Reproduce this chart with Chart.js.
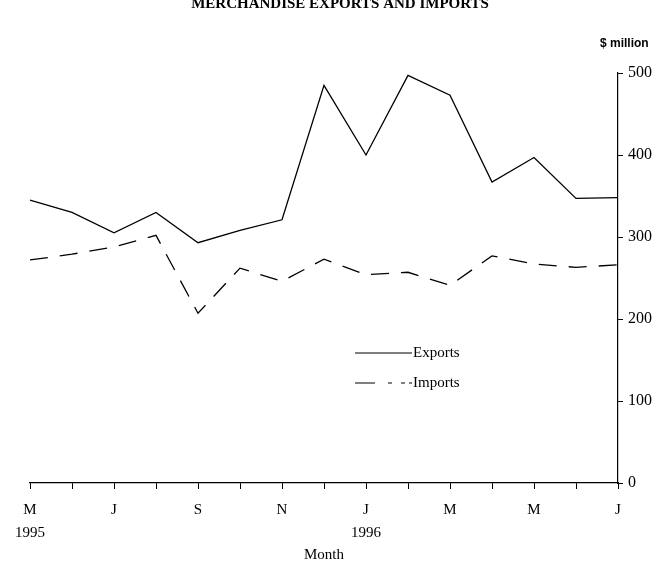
<!DOCTYPE html>
<html>
<head>
<meta charset="utf-8">
<script src="https://cdn.jsdelivr.net/npm/chart.js@4/dist/chart.umd.min.js"></script>
<style>
  html, body { margin: 0; padding: 0; background: #fff; }
  #wrap { width: 661px; height: 564px; position: relative; }
</style>
</head>
<body>
<div id="wrap"><canvas id="tradeChart"></canvas></div>
<script>
// May 1995 .. Jul 1996
const months = ['M', 'J', 'J', 'A', 'S', 'O', 'N', 'D', 'J', 'F', 'M', 'A', 'M', 'J', 'J'];
const years = ['1995', '', '', '', '', '', '', '', '1996', '', '', '', '', '', ''];
const exports = [345, 330, 305, 330, 293, 308, 321, 485, 400, 497, 473, 367, 397, 347, 348];
const imports = [272, 279, 288, 302, 207, 262, 246, 273, 254, 257, 241, 277, 267, 263, 266];
const yTicks = [0, 100, 200, 300, 400, 500];

const serif = '"Liberation Serif", "DejaVu Serif", serif';

const textPlugin = {
    id: 'texts',
    afterDraw(chart) {
        const c = chart.ctx;
        c.save();
        c.fillStyle = '#000';
        c.strokeStyle = '#000';
        // title (top cut off in the scan)
        c.font = 'bold 15px ' + serif;
        c.textAlign = 'center';
        c.textBaseline = 'middle';
        c.fillText('MERCHANDISE EXPORTS AND IMPORTS', 340, 4);
        // unit
        c.font = 'bold 12px "Liberation Sans", Arial, sans-serif';
        c.textAlign = 'left';
        c.fillText('$ million', 600, 44);
        // legend
        c.lineWidth = 1.2;
        c.beginPath();
        c.moveTo(355, 353);
        c.lineTo(412, 353);
        c.stroke();
        c.setLineDash([20, 13, 4, 9, 4, 4]);
        c.beginPath();
        c.moveTo(355, 383);
        c.lineTo(412, 383);
        c.stroke();
        c.setLineDash([]);
        c.font = '15px ' + serif;
        c.fillText('Exports', 413, 353);
        c.fillText('Imports', 413, 383);
        c.restore();
    }
};

new Chart(document.getElementById('tradeChart'), {
    type: 'line',
    data: {
        labels: months.map((m, i) => years[i] ? [m, years[i]] : m),
        datasets: [
            {
                label: 'Exports',
                data: exports,
                borderColor: '#000',
                borderWidth: 1.3,
                pointRadius: 0,
                tension: 0,
            },
            {
                label: 'Imports',
                data: imports,
                borderColor: '#000',
                borderWidth: 1.3,
                borderDash: [18, 12],
                pointRadius: 0,
                tension: 0,
            },
        ],
    },
    options: {
        responsive: true,
        maintainAspectRatio: false,
        animation: false,
        layout: { padding: { left: 30, top: 73, right: 0, bottom: 0 } },
        plugins: {
            legend: { display: false },
            title: { display: false },
            tooltip: { enabled: false },
        },
        scales: {
            x: {
                offset: false,
                afterFit: (s) => { s.height = 81; },
                border: { display: true, color: '#000', width: 1.2 },
                grid: { display: true, drawOnChartArea: false, tickLength: 6, color: '#000' },
                ticks: {
                    autoSkip: false,
                    maxRotation: 0,
                    padding: 10,
                    color: '#000',
                    font: { family: serif, size: 15, lineHeight: 1.5 },
                    callback: function (v, i) {
                        return i % 2 === 0 ? this.getLabelForValue(v) : '';
                    },
                },
                title: {
                    display: true,
                    text: 'Month',
                    color: '#000',
                    font: { family: serif, size: 15 },
                    padding: { top: 0, bottom: 0 },
                },
            },
            y: {
                position: 'right',
                min: 0,
                max: 500,
                afterFit: (s) => { s.width = 43; },
                afterBuildTicks: (s) => { s.ticks = yTicks.map(v => ({ value: v })); },
                border: { display: true, color: '#000', width: 1.2 },
                grid: { display: true, drawOnChartArea: false, tickLength: 5, color: '#000' },
                ticks: {
                    padding: 5,
                    color: '#000',
                    font: { family: serif, size: 16 },
                },
            },
        },
    },
    plugins: [textPlugin],
});
</script>
</body>
</html>
